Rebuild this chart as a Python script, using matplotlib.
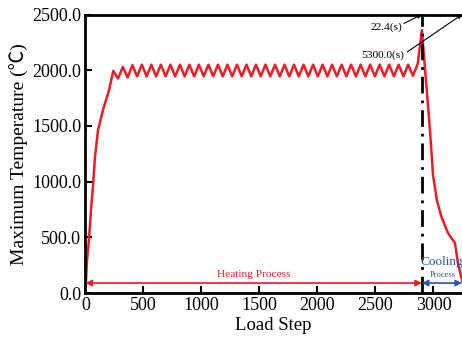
import numpy as np
import matplotlib
matplotlib.use('Agg')
import matplotlib.pyplot as plt

plt.rcParams['font.family'] = ['Liberation Serif', 'Noto Sans CJK SC', 'DejaVu Sans']

# heating ramp
rise_steps = [0, 12, 30, 48, 62, 82, 108, 151, 203, 240]
rise_temps = [0, 280, 476, 750, 925, 1220, 1463, 1643, 1822, 1995]

# plateau oscillation (peaks / troughs)
peak_steps = [322, 404, 486, 568, 650, 732, 814, 896, 978, 1060, 1142, 1224,
              1306, 1388, 1470, 1552, 1634, 1716, 1798, 1880, 1962, 2044,
              2126, 2208, 2290, 2372, 2454, 2536, 2618, 2700, 2782]
peak_temps = [2030, 2045, 2050, 2050, 2050, 2050, 2050, 2050, 2050, 2050, 2050, 2050,
              2050, 2050, 2050, 2050, 2050, 2050, 2050, 2050, 2050, 2050,
              2050, 2050, 2050, 2050, 2050, 2050, 2050, 2050, 2050]
trough_steps = [281, 363, 445, 527, 609, 691, 773, 855, 937, 1019, 1101, 1183,
                1265, 1347, 1429, 1511, 1593, 1675, 1757, 1839, 1921, 2003,
                2085, 2167, 2249, 2331, 2413, 2495, 2577, 2659, 2741, 2823]
trough_temps = [1925, 1935, 1945, 1945, 1945, 1945, 1945, 1945, 1945, 1945, 1945, 1945,
                1945, 1945, 1945, 1945, 1945, 1945, 1945, 1945, 1945, 1945,
                1945, 1945, 1945, 1945, 1945, 1945, 1945, 1945, 1945, 1950]

# final spike and cooling
cool_steps = [2865, 2900, 2935, 2970, 2996, 3030, 3070, 3125, 3185, 3211, 3246, 3260]
cool_temps = [2060, 2360, 1912, 1463, 1060, 830, 680, 539, 449, 269, 117, 60]

t_end_heat = 2900
x_max = 3246

# build the full curve
osc = sorted(zip(peak_steps + trough_steps, peak_temps + trough_temps))
steps = rise_steps + [s for s, _ in osc] + cool_steps
temps = rise_temps + [t for _, t in osc] + cool_temps

red = '#ee1c25'
blue = '#2a55b5'

fig = plt.figure(figsize=(4.62, 3.46), dpi=100)
ax = fig.add_axes([0.185, 0.153, 0.815, 0.805])

ax.plot(steps, temps, color=red, lw=1.8, solid_joinstyle='round')
ax.plot([t_end_heat, t_end_heat], [0, 2500], color='k', lw=2,
        linestyle=(0, (6, 2.5, 1, 2.5)))

# process arrows
ax.annotate('', xy=(0, 90), xytext=(t_end_heat, 90),
            arrowprops=dict(arrowstyle='<|-|>', color=red, lw=1.2,
                            mutation_scale=9, shrinkA=0, shrinkB=0))
ax.annotate('', xy=(t_end_heat, 90), xytext=(x_max, 90),
            arrowprops=dict(arrowstyle='<|-|>', color=blue, lw=1.2,
                            mutation_scale=9, shrinkA=0, shrinkB=0))
ax.text(1450, 170, 'Heating Process', color=red, fontsize=8.2,
        ha='center', va='center')
ax.text(3075, 280, 'Cooling', color=blue, fontsize=9.5, ha='center', va='center')
ax.text(3075, 165, 'Process', color=blue, fontsize=6, ha='center', va='center')

# time labels
ax.text(2730, 2388, '22.4(s)', fontsize=8.2, ha='right', va='center')
ax.annotate('', xy=(t_end_heat, 2500), xytext=(2745, 2420),
            arrowprops=dict(arrowstyle='-|>', color='k', lw=0.8,
                            mutation_scale=6, shrinkA=0, shrinkB=0))
ax.text(2745, 2136, '5300.0(s)', fontsize=8.2, ha='right', va='center')
ax.annotate('', xy=(x_max, 2500), xytext=(2775, 2165),
            arrowprops=dict(arrowstyle='-|>', color='k', lw=0.8,
                            mutation_scale=6, shrinkA=0, shrinkB=0))

ax.set_xlim(0, x_max)
ax.set_ylim(0, 2500)
ax.set_xticks([0, 500, 1000, 1500, 2000, 2500, 3000])
ax.set_yticks([0, 500, 1000, 1500, 2000, 2500])
ax.set_yticklabels(['%.1f' % v for v in [0, 500, 1000, 1500, 2000, 2500]])
ax.tick_params(direction='in', length=5, width=1.5, labelsize=13, pad=3)
for side in ['left', 'bottom', 'top']:
    ax.spines[side].set_linewidth(2)
ax.spines['right'].set_visible(False)

ax.set_xlabel('Load Step', fontsize=13.5, labelpad=2)
ax.set_ylabel('Maximum Temperature (℃)', fontsize=14, labelpad=2)

fig.savefig('out.png', dpi=100)
